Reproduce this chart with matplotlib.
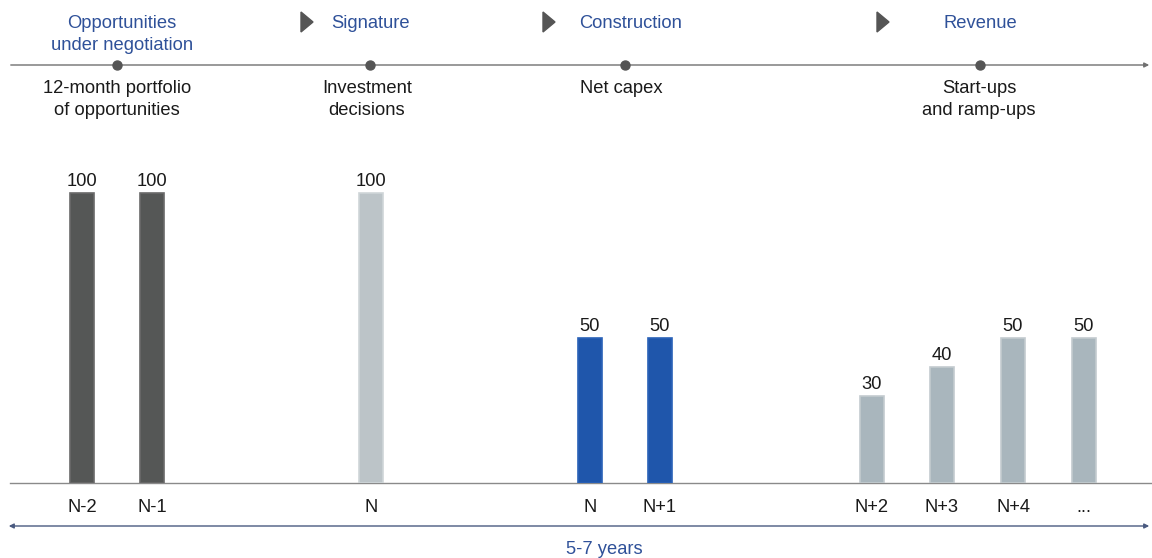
import matplotlib.pyplot as plt
from matplotlib.patches import Polygon

plt.rcParams['font.family'] = ['Liberation Sans', 'DejaVu Sans']

# data
tick_labels = ['N-2', 'N-1', 'N', 'N', 'N+1', 'N+2', 'N+3', 'N+4', '...']
values = [100, 100, 100, 50, 50, 30, 40, 50, 50]
groups = ['opp', 'opp', 'sig', 'con', 'con', 'rev', 'rev', 'rev', 'rev']

stage_titles = ['Opportunities\nunder negotiation', 'Signature', 'Construction', 'Revenue']
stage_notes = ['12-month portfolio\nof opportunities', 'Investment\ndecisions', 'Net capex',
               'Start-ups\nand ramp-ups']
span_label = '5-7 years'

# layout (pixel-ish x positions)
bar_x = [82, 152, 371, 590, 660, 872, 942, 1013, 1084]
stage_dot_x = [117, 370, 625, 980]
stage_title_x = [122, 371, 631, 980]
stage_note_x = [117, 367, 621, 979]
arrow_x = [306, 548, 882]

face = {'opp': '#555756', 'sig': '#bcc4c8', 'con': '#1f56ab', 'rev': '#a9b6bd'}
edge = {'opp': '#6a6a6a', 'sig': '#cfd5d8', 'con': '#2a62b8', 'rev': '#c3cbcf'}
blue_txt = '#2f5199'
fs = 13.2

W, H = 1152, 558
fig = plt.figure(figsize=(W / 100, H / 100), dpi=100)

# bar axes: baseline at y=483 px, 100 units -> 290 px
base = (H - 483) / H
unit = 2.90 / H
ax = fig.add_axes([0, base, 1, unit * 110])
ax.set_xlim(0, W)
ax.set_ylim(0, 110)
ax.axis('off')
for x, v, g in zip(bar_x, values, groups):
    ax.bar(x, v, width=24, color=face[g], edgecolor=edge[g], linewidth=1.2)
    ax.text(x, v + 1.0, str(v), ha='center', va='bottom', fontsize=fs, color='#1a1a1a')

# overlay axes in pixel coords
ov = fig.add_axes([0, 0, 1, 1], zorder=-1)
ov.set_xlim(0, W)
ov.set_ylim(H, 0)
ov.axis('off')

# timeline
ov.annotate('', xy=(1152, 65), xytext=(8, 65),
            arrowprops=dict(arrowstyle='-|>', color='#707070', lw=1.0, mutation_scale=7))
ov.scatter(stage_dot_x, [65] * 4, s=42, color='#555555', zorder=3)
for x, t in zip(stage_title_x, stage_titles):
    ov.text(x, 15, t, ha='center', va='top', fontsize=fs, color=blue_txt, linespacing=1.4)
for x, t in zip(stage_note_x, stage_notes):
    ov.text(x, 80, t, ha='center', va='top', fontsize=fs, color='#1a1a1a', linespacing=1.35)
for x in arrow_x:
    ov.add_patch(Polygon([(x - 5, 12), (x - 5, 32), (x + 7, 22)], closed=True,
                         color='#555555'))

# baseline
ov.plot([10, 1152], [483, 483], color='#8a8a8a', lw=1.0)
for x, t in zip(bar_x, tick_labels):
    ov.text(x, 507, t, ha='center', va='center', fontsize=fs, color='#1a1a1a')

# span arrow
ov.annotate('', xy=(1152, 526), xytext=(6, 526),
            arrowprops=dict(arrowstyle='<|-|>', color='#4a5a80', lw=1.0, mutation_scale=7))
ov.text(604, 549, span_label, ha='center', va='center', fontsize=fs, color=blue_txt)

fig.savefig('out.png', dpi=100)
